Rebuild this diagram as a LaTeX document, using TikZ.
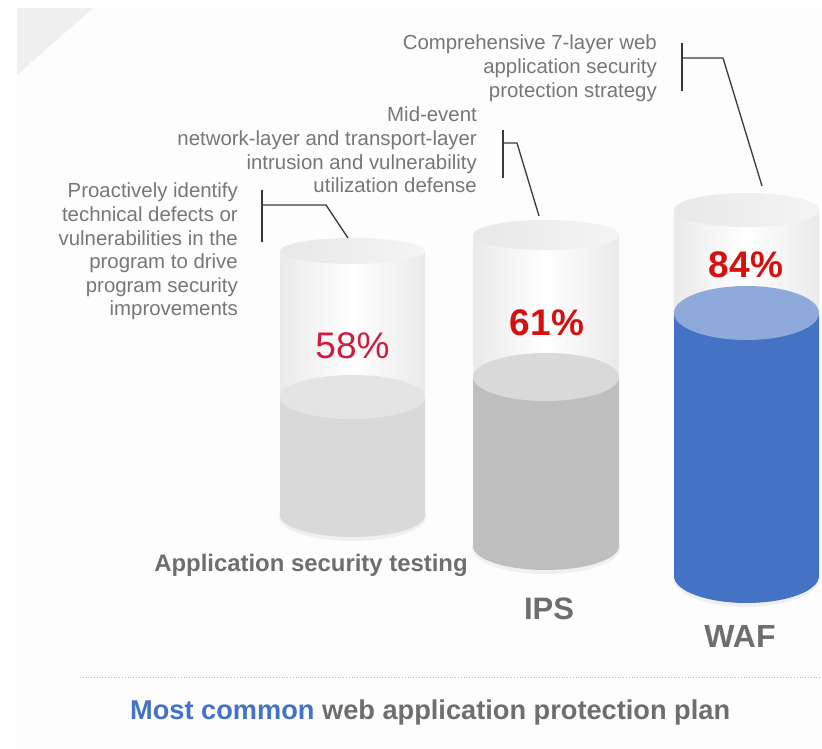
\documentclass[tikz,border=0pt]{standalone}
\usepackage{fontspec}
\setmainfont{Liberation Sans}

\definecolor{paper}{HTML}{FDFDFD}
\definecolor{cornergray}{HTML}{EFEFEF}
\definecolor{glassedge}{HTML}{EAEAEA}
\definecolor{lidleft}{HTML}{E8E8E8}
\definecolor{lidright}{HTML}{F4F4F4}
\definecolor{rimgray}{HTML}{F0F0F0}
\definecolor{liqlight}{HTML}{D9D9D9}
\definecolor{liqlighttop}{HTML}{E4E4E4}
\definecolor{liqmid}{HTML}{BFBFBF}
\definecolor{liqmidtop}{HTML}{D9D9D9}
\definecolor{liqblue}{HTML}{4472C4}
\definecolor{liqbluetop}{HTML}{8EAADB}
\definecolor{pctcrimson}{HTML}{D41A3C}
\definecolor{pctred}{HTML}{D41010}
\definecolor{descgray}{HTML}{777777}
\definecolor{namegray}{HTML}{6E6E6E}
\definecolor{leadgray}{HTML}{3A3A3A}
\definecolor{titleblue}{HTML}{4472C4}

% jar: centre x, x radius, lid y, lid y radius, surface y, surface y radius,
%      bottom y, liquid colour, surface colour
\newcommand\drawjar[9]{%
  \fill[rimgray] (#1,#7-2) ellipse[x radius=#2+1, y radius=#6+2];
  \shade[left color=glassedge, right color=glassedge, middle color=white]
    (#1-#2,#3) rectangle (#1+#2,#5);
  \shade[left color=lidleft, right color=lidright]
    (#1,#3) ellipse[x radius=#2, y radius=#4];
  \fill[#8] (#1-#2,#5) -- (#1-#2,#7)
    arc[start angle=180, end angle=360, x radius=#2, y radius=#6]
    -- (#1+#2,#5) -- cycle;
  \fill[#9] (#1,#5) ellipse[x radius=#2, y radius=#6];
}

\begin{document}
\begin{tikzpicture}[x=1pt, y=1pt,
  desc/.style={inner sep=0pt, align=right, text=descgray,
    font=\fontsize{20.4}{23.6}\selectfont},
  pctplain/.style={inner sep=0pt, text=pctcrimson,
    font=\fontsize{37}{37}\selectfont},
  pctbold/.style={inner sep=0pt, text=pctred,
    font=\fontsize{37}{37}\selectfont\bfseries},
  jarname/.style={inner sep=0pt, text=namegray, font=\bfseries},
  lead/.style={draw=leadgray, line width=1.3pt},
]
\useasboundingbox (0,0) rectangle (822,749);

% page background and folded corner
\fill[white] (0,0) rectangle (822,749);
\fill[paper] (17,0) rectangle (822,741);
\fill[cornergray] (17,741) -- (93,741) -- (17,674) -- cycle;

% the three jars
\drawjar{352.5}{72.5}{498}{13}{352}{22}{234}{liqlight}{liqlighttop}
\drawjar{546}{73}{514}{15}{372}{24}{203}{liqmid}{liqmidtop}
\drawjar{746.5}{72.5}{539}{17}{436}{27}{173}{liqblue}{liqbluetop}

% percentages
\node[pctplain] (p1) at (352.5,403) {58\%};
\node[pctbold]  (p2) at (547,426) {61\%};
\node[pctbold]  (p3) at (746,484) {84\%};

% jar names
\node[jarname, anchor=base, font=\fontsize{23.9}{23.9}\selectfont\bfseries]
  (n1) at (311,177) {Application security testing};
\node[jarname, anchor=base, font=\fontsize{31}{31}\selectfont\bfseries]
  (n2) at (549,129) {IPS};
\node[jarname, anchor=base, font=\fontsize{32}{32}\selectfont\bfseries]
  (n3) at (740,101) {WAF};

% descriptions
\node[desc, anchor=north east] (d1) at (238,566)
  {Proactively identify\\technical defects or\\vulnerabilities in the\\program to drive\\program security\\improvements};
\node[desc, anchor=north east] (d2) at (477,642)
  {Mid-event\\network-layer and transport-layer\\intrusion and vulnerability\\utilization defense};
\node[desc, anchor=north east] (d3) at (657,714)
  {Comprehensive 7-layer web\\application security\\protection strategy};

% leader points
\coordinate (b1u) at (262,559); \coordinate (b1d) at (262,507);
\coordinate (b1m) at (262,544); \coordinate (b1k) at (326,544);
\coordinate (t1)  at (348,511);
\coordinate (b2u) at (503,619); \coordinate (b2d) at (503,571);
\coordinate (b2m) at (503,606); \coordinate (b2k) at (517,606);
\coordinate (t2)  at (539,533);
\coordinate (b3u) at (682,706); \coordinate (b3d) at (682,658);
\coordinate (b3m) at (682,691); \coordinate (b3k) at (723,691);
\coordinate (t3)  at (762,563);

% leaders
\draw[lead] (b1u) -- (b1d);
\draw[lead, line join=round] (b1m) -- (b1k) -- (t1);
\draw[lead] (b2u) -- (b2d);
\draw[lead, line join=round] (b2m) -- (b2k) -- (t2);
\draw[lead] (b3u) -- (b3d);
\draw[lead, line join=round] (b3m) -- (b3k) -- (t3);

% footer rule and caption
\coordinate (ruleL) at (80,72);
\coordinate (ruleR) at (822,72);
\draw[gray!55, line width=0.8pt, dotted] (ruleL) -- (ruleR);
\node[anchor=base west, inner sep=0pt, font=\fontsize{27.2}{27.2}\selectfont\bfseries]
  (cap) at (130,29)
  {\textcolor{titleblue}{Most common} \textcolor{namegray}{web application protection plan}};
\end{tikzpicture}
\end{document}
